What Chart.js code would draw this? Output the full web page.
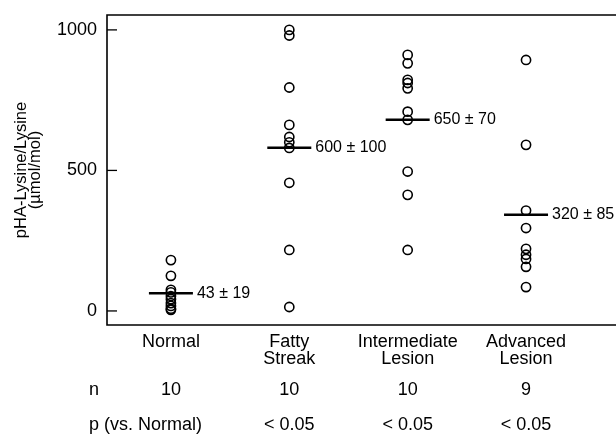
<!DOCTYPE html>
<html lang="en">
<head>
    <meta charset="UTF-8">
    <title>pHA-Lysine/Lysine by lesion type</title>
    <script src="https://cdn.jsdelivr.net/npm/chart.js"></script>
    <style>
        html, body { margin: 0; padding: 0; background: #fff; }
    </style>
</head>
<body>
    <canvas id="myChart" width="616" height="439"></canvas>

    <script>
        // categories and values
        const categories = [['Normal'], ['Fatty', 'Streak'], ['Intermediate', 'Lesion'], ['Advanced', 'Lesion']];
        const normal = [181, 125, 75, 66, 53, 42, 28, 18, 8, 4];
        const fattyStreak = [1000, 980, 795, 662, 619, 600, 580, 456, 217, 14];
        const intermediate = [911, 881, 822, 811, 792, 709, 680, 496, 413, 217];
        const advanced = [893, 591, 357, 295, 221, 200, 185, 157, 85];
        const means = [63, 581, 680, 342];
        const meanLabels = ['43 \u00b1 19', '600 \u00b1 100', '650 \u00b1 70', '320 \u00b1 85'];
        const nValues = ['10', '10', '10', '9'];
        const pValues = ['', '< 0.05', '< 0.05', '< 0.05'];
        const yTicks = [0, 500, 1000];

        const FONT = 'Liberation Sans, Arial, Helvetica, sans-serif';

        const groups = [normal, fattyStreak, intermediate, advanced];
        const points = [];
        groups.forEach((vals, i) => vals.forEach(v => points.push({x: i, y: v})));

        // box, inner y ticks, mean labels and the n / p rows
        const extras = {
            id: 'extras',
            afterDraw(chart) {
                const ctx = chart.ctx;
                const area = chart.chartArea;
                const xs = chart.scales.x;
                const ys = chart.scales.y;
                ctx.save();
                ctx.strokeStyle = '#000';
                ctx.lineWidth = 1.6;
                ctx.beginPath();
                ctx.moveTo(area.right + 2, area.top);
                ctx.lineTo(area.left, area.top);
                ctx.lineTo(area.left, area.bottom);
                ctx.lineTo(area.right + 2, area.bottom);
                ctx.stroke();

                ctx.lineWidth = 1.3;
                yTicks.forEach(t => {
                    const y = ys.getPixelForValue(t);
                    ctx.beginPath();
                    ctx.moveTo(area.left, y);
                    ctx.lineTo(area.left + 10, y);
                    ctx.stroke();
                });

                ctx.fillStyle = '#000';
                ctx.textBaseline = 'middle';
                ctx.textAlign = 'left';
                ctx.font = '16px ' + FONT;
                means.forEach((m, i) => {
                    ctx.fillText(meanLabels[i], xs.getPixelForValue(i) + 26, ys.getPixelForValue(m));
                });

                ctx.font = '18px ' + FONT;
                const nY = area.bottom + 65;
                const pY = area.bottom + 100;
                ctx.fillText('n', 89, nY);
                ctx.fillText('p (vs. Normal)', 89, pY);
                ctx.textAlign = 'center';
                nValues.forEach((n, i) => ctx.fillText(n, xs.getPixelForValue(i), nY));
                pValues.forEach((p, i) => ctx.fillText(p, xs.getPixelForValue(i), pY));
                ctx.restore();
            }
        };

        const ctx = document.getElementById('myChart').getContext('2d');
        const myChart = new Chart(ctx, {
            type: 'scatter',
            data: {
                datasets: [
                    {
                        label: 'values',
                        data: points,
                        pointStyle: 'circle',
                        pointRadius: 4.6,
                        borderColor: '#000',
                        borderWidth: 1.6,
                        backgroundColor: 'rgba(0,0,0,0)'
                    },
                    {
                        label: 'mean',
                        data: means.map((m, i) => ({x: i, y: m})),
                        pointStyle: 'line',
                        pointRadius: 22,
                        borderColor: '#000',
                        borderWidth: 2.5
                    }
                ]
            },
            options: {
                responsive: false,
                animation: false,
                devicePixelRatio: 1,
                layout: { autoPadding: false, padding: { top: 15, right: 0, left: 0, bottom: 0 } },
                plugins: { legend: { display: false }, tooltip: { enabled: false } },
                scales: {
                    x: {
                        type: 'linear',
                        min: -0.54,
                        max: 3.76,
                        grid: { display: false, drawTicks: false },
                        border: { display: false },
                        afterBuildTicks: s => { s.ticks = [0, 1, 2, 3].map(v => ({value: v})); },
                        afterFit: s => { s.height = 114; s.paddingLeft = 0; s.paddingRight = 0; },
                        ticks: {
                            color: '#000',
                            padding: 9,
                            maxRotation: 0,
                            autoSkip: false,
                            font: { family: FONT, size: 18, lineHeight: 0.92 },
                            callback: v => categories[v]
                        }
                    },
                    y: {
                        min: -50,
                        max: 1053,
                        grid: { display: false, drawTicks: false },
                        border: { display: false },
                        afterBuildTicks: s => { s.ticks = yTicks.map(v => ({value: v})); },
                        afterFit: s => { s.width = 107; s.paddingTop = 0; s.paddingBottom = 0; },
                        ticks: {
                            color: '#000',
                            padding: 10,
                            font: { family: FONT, size: 18 },
                            callback: v => String(v)
                        },
                        title: {
                            display: true,
                            text: ['pHA-Lysine/Lysine', '(\u00b5mol/mol)'],
                            color: '#000',
                            padding: { top: 14, bottom: 0 },
                            font: { family: FONT, size: 16.5, lineHeight: 0.85 }
                        }
                    }
                }
            },
            plugins: [extras]
        });
    </script>
</body>
</html>
